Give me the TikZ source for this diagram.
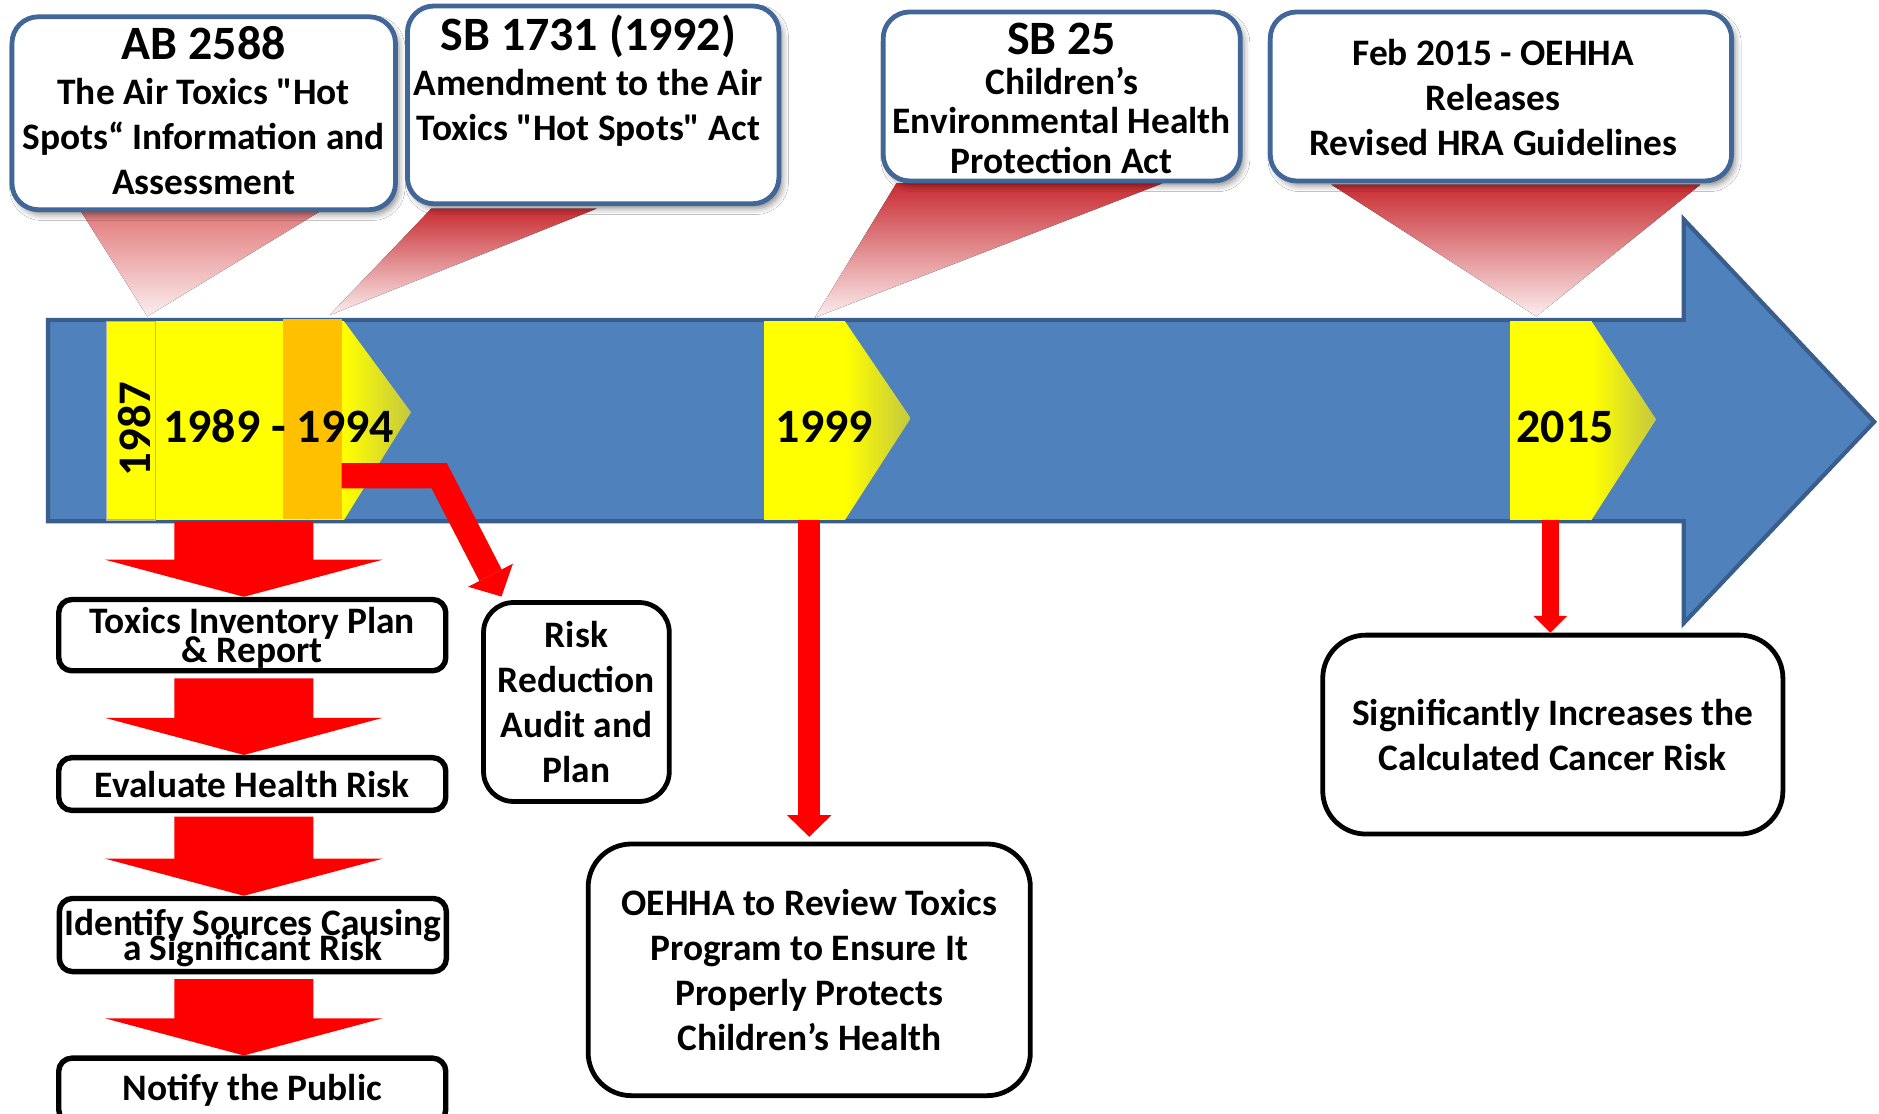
\documentclass[tikz,border=0pt]{standalone}
\usepackage{fontspec}
\setmainfont{Carlito}[Ligatures=TeXOff]
\usetikzlibrary{calc,arrows.meta,shadows.blur}

\definecolor{barblue}{RGB}{79,129,189}
\definecolor{barline}{RGB}{58,94,140}
\definecolor{calloutline}{RGB}{65,102,152}
\definecolor{mkyellow}{RGB}{255,255,0}
\definecolor{mkorange}{RGB}{255,192,0}
\definecolor{mkolive}{RGB}{196,200,64}
\definecolor{flowred}{RGB}{255,0,0}
\definecolor{ptrtop}{RGB}{200,44,50}
\definecolor{ptrsoft}{RGB}{226,122,124}
\definecolor{ptrend}{RGB}{252,238,238}

\newcommand\txtbody{\bfseries\fontsize{31.2}{37.5}\selectfont}
\newcommand\txttight[1]{\bfseries\fontsize{31.2}{#1}\selectfont\lineskiplimit=-60pt\relax}
\newcommand\txttitle{\bfseries\fontsize{40}{40}\selectfont}
\newcommand\txtyear{\bfseries\fontsize{40}{40}\selectfont}

% block arrow between two points: shaft, then a wide triangular head
\newcommand\blockarrow[2]{%
  \fill[flowred] let \p1=(#1), \p2=(#2) in
    (\x1-58pt,\y1) -- (\x1+58pt,\y1) -- (\x1+58pt,\y2+31pt) -- (\x1+116pt,\y2+31pt)
    -- (\x2,\y2) -- (\x1-116pt,\y2+31pt) -- (\x1-58pt,\y2+31pt) -- cycle;}

\begin{document}
\begin{tikzpicture}[x=1pt,y=-1pt,
  callout/.style={draw=calloutline, line width=4pt, fill=white, rounded corners=22pt,
    inner sep=0pt, blur shadow={shadow xshift=3pt, shadow yshift=-4pt,
    shadow blur radius=5pt, shadow opacity=45}},
  calltext/.style={align=center, font=\txtbody, inner sep=0pt},
  pointer/.style={top color=ptrtop, bottom color=ptrend},
  stepbox/.style={draw=black, line width=4.5pt, fill=white, rounded corners=11pt,
    minimum width=323pt, inner sep=0pt, align=center, font=\txtbody},
  notebox/.style={draw=black, line width=4pt, fill=white, inner sep=0pt,
    align=center, font=\txtbody},
  yeartext/.style={font=\txtyear, inner sep=0pt},
  chevron/.style={left color=mkyellow, right color=mkolive},
]
\useasboundingbox (0,0) rectangle (1568,929);
\fill[white] (0,0) rectangle (1568,929);

% callout pointers (behind everything else)
\fill[pointer, top color=ptrsoft] (68,177) -- (266,177) -- (123,264) -- cycle;
\fill[pointer] (360,174) -- (498,174) -- (275,263) -- cycle;
\fill[pointer] (748,153) -- (970,153) -- (680,265) -- cycle;
\fill[pointer] (1111,154) -- (1419,154) -- (1282,264) -- cycle;

% timeline arrow
\draw[fill=barblue, draw=barline, line width=3.5pt, line join=miter]
  (40,267) -- (1405,267) -- (1405,183) -- (1564,352) -- (1405,520) -- (1405,435) -- (40,435) -- cycle;
\coordinate (barbot) at (0,435);

% year markers
\draw[fill=mkyellow, draw=gray!60, line width=1pt] (89,268) rectangle (130,434);
\fill[mkyellow] (130,268) rectangle (287,434);
\shade[chevron] (287,268) -- (343,344) -- (287,434) -- cycle;
\node[fill=mkorange, minimum width=49pt, minimum height=167pt, inner sep=0pt, outer sep=0pt]
  (m94) at (260.5,349.5) {};
\node[yeartext, rotate=90, font=\bfseries\fontsize{39}{39}\selectfont] (y1987) at (112,358) {1987};
\node[yeartext] (y8994) at (232.5,356) {1989 - 1994};

\fill[mkyellow] (637.5,268) rectangle (705,434);
\shade[chevron] (705,268) -- (760,349) -- (705,434) -- cycle;
\node[yeartext] (y1999) at (688,356) {1999};

\fill[mkyellow] (1260,268) rectangle (1328,434);
\shade[chevron] (1328,268) -- (1382,350) -- (1328,434) -- cycle;
\node[yeartext] (y2015) at (1306,356) {2015};

% callouts
\node[callout, minimum width=320pt, minimum height=161pt] (c1) at (170,94.5) {};
\node[callout, minimum width=310pt, minimum height=165pt] (c2) at (495,87.5) {};
\node[callout, minimum width=298pt, minimum height=141pt] (c3) at (886,80.5) {};
\node[callout, minimum width=385pt, minimum height=141pt] (c4) at (1252.5,80.5) {};

\node[calltext] (c1txt) at (170,92)
  {{\txttitle AB 2588}\\The Air Toxics "Hot\\Spots“ Information and\\Assessment};
\node[calltext] (c2txt) at (491,67)
  {{\txttitle SB 1731 (1992)}\\Amendment to the Air\\Toxics "Hot Spots" Act};
\node[calltext, font=\bfseries\fontsize{31.2}{33}\selectfont] (c3txt) at (886,82)
  {{\txttitle SB 25}\\Children’s\\Environmental Health\\Protection Act};
\node[calltext] (c4txt) at (1246,81.4)
  {Feb 2015 - OEHHA\\Releases\\Revised HRA Guidelines};

% process steps
\coordinate (flowx) at (203.5,0);
\node[stepbox, minimum height=59.5pt, font=\txttight{24}, text depth=-6pt]
  (b1) at (210.5,530) {Toxics Inventory Plan\\\& Report};
\node[stepbox, minimum height=44pt] (b2) at (210.5,654.25) {Evaluate Health Risk};
\node[stepbox, minimum height=61pt, font=\txttight{21}, text depth=0pt]
  (b3) at (211,780.25) {Identify Sources Causing\\a Significant Risk};
\node[stepbox, minimum height=54pt] (b4) at (210.5,910) {Notify the Public};

\blockarrow{flowx |- barbot}{flowx |- b1.north}
\blockarrow{$(flowx |- b1.south)+(0,4)$}{flowx |- b2.north}
\blockarrow{$(flowx |- b2.south)+(0,3)$}{flowx |- b3.north}
\blockarrow{$(flowx |- b3.south)+(0,4)$}{flowx |- b4.north}

% outcome boxes
\node[notebox, rounded corners=25pt, minimum width=155pt, minimum height=166pt]
  (risk) at (481,585.8) {Risk\\Reduction\\Audit and\\Plan};
\node[notebox, rounded corners=36pt, minimum width=369pt, minimum height=210pt]
  (oehha) at (675.3,809.3) {OEHHA to Review Toxics\\Program to Ensure It\\Properly Protects\\Children’s Health};
\node[notebox, rounded corners=36pt, minimum width=384pt, minimum height=166pt]
  (sig) at (1295.8,613) {Significantly Increases the\\Calculated Cancer Risk};

% red connectors
\coordinate (bend) at (366.5,397);
\draw[flowred, line width=21pt, line join=miter,
  -{Triangle[width=42pt,length=20pt,line width=0pt]}]
  (m94.east |- bend) -- (bend) -- ($(risk.north west)+(17,-3)$);
\draw[flowred, line width=18pt, -{Triangle[width=37pt,length=18pt,line width=0pt]}]
  (oehha.north |- 0,434) -- ($(oehha.north)+(0,-4)$);
\draw[flowred, line width=14pt, -{Triangle[width=28pt,length=14pt,line width=0pt]}]
  ([xshift=-2pt]sig.north |- 0,434) -- ([xshift=-2pt]sig.north);
\end{tikzpicture}
\end{document}
